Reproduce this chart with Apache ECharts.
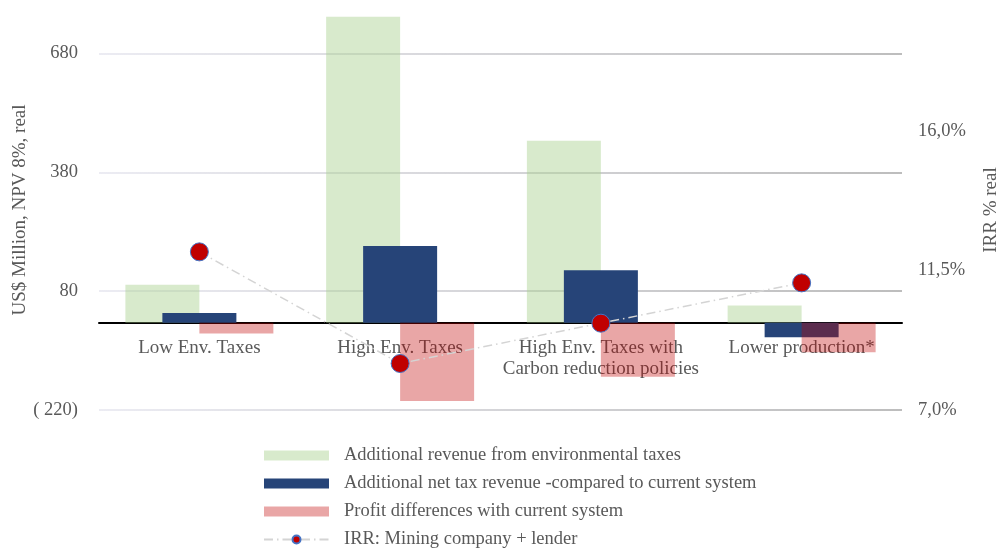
<!DOCTYPE html>
<html>
<head>
<meta charset="utf-8">
<script src="https://cdn.jsdelivr.net/npm/echarts@6/dist/echarts.min.js"></script>
<style>
  html, body { margin: 0; padding: 0; background: #ffffff; }
  #chart { width: 997px; height: 548px; }
</style>
</head>
<body>
<div id="chart"></div>
<script>
// Scenario names along the x axis
const categories = [
  'Low Env. Taxes',
  'High Env. Taxes',
  'High Env. Taxes with\nCarbon reduction policies',
  'Lower production*'
];

// US$ Million, NPV 8%, real
const envTaxRevenue = [96, 773, 460, 44];
const netTaxRevenue = [25, 194, 133, -36];
const profitDiff = [-27, -197, -136, -74];

// IRR in percent
const irr = [12.1, 8.5, 9.8, 11.1];

// Axis ticks
const npvTicks = [-220, 80, 380, 680];
const irrTicks = [7.0, 11.5, 16.0];

const seriesNames = [
  'Additional revenue from environmental taxes',
  'Additional net tax revenue -compared to current system',
  'Profit differences with current system',
  'IRR: Mining company + lender'
];

const serif = "'Liberation Serif', 'DejaVu Serif', serif";
const textGray = '#595959';

// plot box
const GRID_TOP = 10, GRID_BOTTOM = 138, CHART_H = 548;
const plotHeight = CHART_H - GRID_TOP - GRID_BOTTOM;
const npvMin = npvTicks[0], npvMax = 790;
// shift the category axis up so it sits on the zero value
const zeroOffset = plotHeight * (0 - npvMin) / (npvMax - npvMin);

const gridGradient = new echarts.graphic.LinearGradient(0, 0, 1, 0, [
  { offset: 0, color: '#ececf3' },
  { offset: 1, color: '#bdbdbd' }
]);

const chart = echarts.init(document.getElementById('chart'), null, { renderer: 'canvas' });

chart.setOption({
  animation: false,
  backgroundColor: '#ffffff',
  grid: {
    left: 99, right: 95, top: GRID_TOP, bottom: GRID_BOTTOM,
    containLabel: false,
    outerBoundsMode: 'none'
  },
  legend: {
    orient: 'vertical',
    left: 263,
    top: 446,
    height: 110,
    padding: 0,
    itemWidth: 65,
    itemHeight: 10,
    itemGap: 9,
    textStyle: { fontFamily: serif, fontSize: 18.5, color: textGray, lineHeight: 18, padding: [0, 0, 0, 10] },
    data: [
      { name: seriesNames[0], icon: 'rect' },
      { name: seriesNames[1], icon: 'rect' },
      { name: seriesNames[2], icon: 'rect' },
      { name: seriesNames[3] }
    ]
  },
  xAxis: {
    type: 'category',
    data: categories,
    offset: -zeroOffset,
    axisLine: { show: true, onZero: false, lineStyle: { color: '#000000', width: 2 } },
    axisTick: { show: false },
    axisLabel: {
      margin: 15,
      fontFamily: serif,
      fontSize: 19,
      lineHeight: 21,
      color: textGray,
      interval: 0
    },
    splitLine: { show: false }
  },
  yAxis: [
    {
      type: 'value',
      min: npvMin,
      max: npvMax,
      interval: npvTicks[1] - npvTicks[0],
      name: 'US$ Million, NPV 8%, real',
      nameLocation: 'middle',
      nameRotate: 90,
      nameGap: 69,
      nameMoveOverlap: false,
      nameTextStyle: { fontFamily: serif, fontSize: 19, color: textGray },
      axisLine: { show: false },
      axisTick: { show: false },
      splitLine: { show: false },
      axisLabel: {
        margin: 21,
        showMaxLabel: false,
        fontFamily: serif,
        fontSize: 18.5,
        color: textGray,
        formatter: v => (npvTicks.indexOf(v) < 0 ? '' : (v < 0 ? '( ' + Math.abs(v) + ')' : String(v)))
      }
    },
    {
      type: 'value',
      position: 'right',
      min: irrTicks[0],
      max: 19.9,
      interval: irrTicks[1] - irrTicks[0],
      name: 'IRR % real',
      nameLocation: 'middle',
      nameRotate: 90,
      nameGap: 80,
      nameMoveOverlap: false,
      nameTextStyle: { fontFamily: serif, fontSize: 19, color: textGray },
      axisLine: { show: false },
      axisTick: { show: false },
      splitLine: { show: false },
      axisLabel: {
        margin: 16,
        showMaxLabel: false,
        fontFamily: serif,
        fontSize: 18.5,
        color: textGray,
        formatter: v => (irrTicks.indexOf(v) < 0 ? '' : v.toFixed(1).replace('.', ',') + '%')
      }
    }
  ],
  series: [
    {
      name: seriesNames[0],
      type: 'bar',
      yAxisIndex: 0,
      data: envTaxRevenue,
      barWidth: 74,
      barGap: '-50%',
      itemStyle: { color: 'rgba(169, 208, 142, 0.45)' },
      markLine: {
        silent: true,
        z: 1,
        symbol: 'none',
        label: { show: false },
        emphasis: { disabled: true },
        lineStyle: { color: gridGradient, width: 2, type: 'solid' },
        data: npvTicks.map(v => ({ yAxis: v }))
      }
    },
    {
      name: seriesNames[1],
      type: 'bar',
      yAxisIndex: 0,
      data: netTaxRevenue,
      barWidth: 74,
      barGap: '-50%',
      itemStyle: { color: '#264478' }
    },
    {
      name: seriesNames[2],
      type: 'bar',
      yAxisIndex: 0,
      data: profitDiff,
      barWidth: 74,
      barGap: '-50%',
      itemStyle: { color: 'rgba(192, 0, 0, 0.35)' }
    },
    {
      name: seriesNames[3],
      type: 'line',
      yAxisIndex: 1,
      data: irr,
      symbol: 'circle',
      symbolSize: 18,
      z: 5,
      lineStyle: { color: '#d4d4d4', width: 1.5, type: [9, 4, 1.5, 4] },
      itemStyle: { color: '#c00000', borderColor: '#4472c4', borderWidth: 1 }
    }
  ]
});
</script>
</body>
</html>
